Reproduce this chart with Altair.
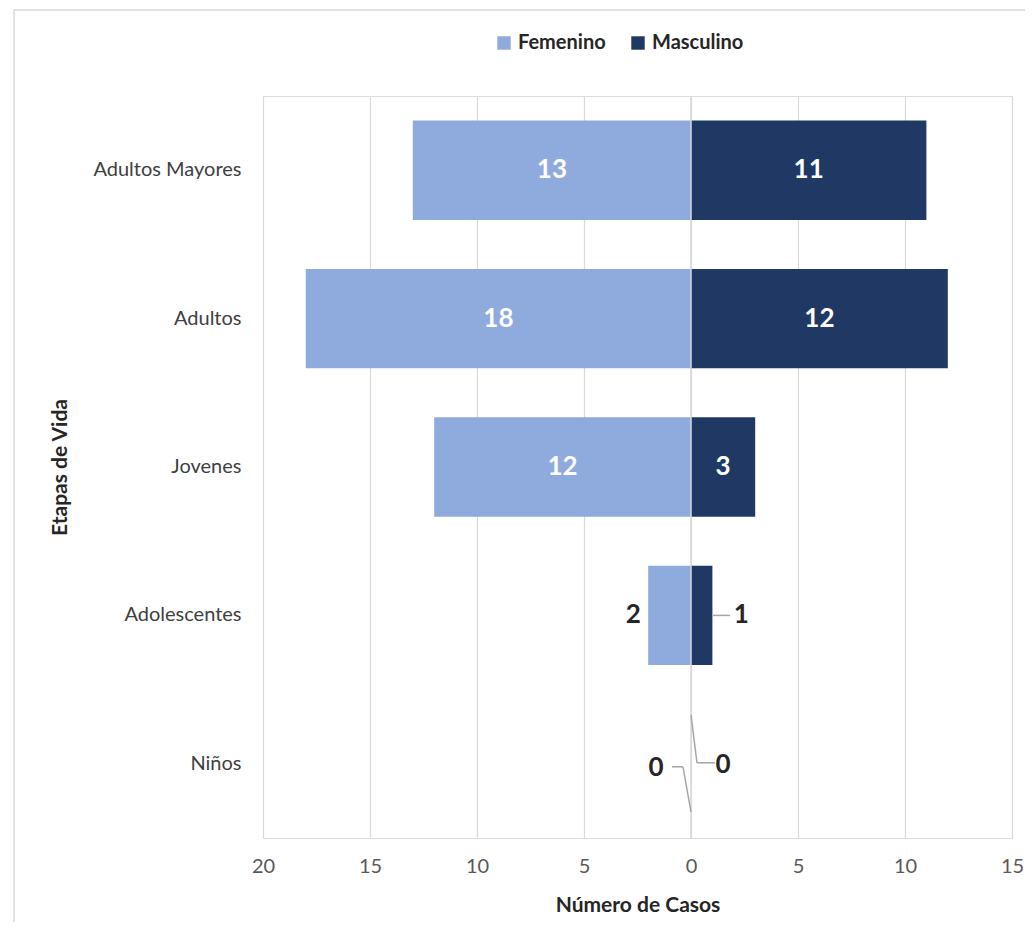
import altair as alt
import pandas as pd

etapas = ["Adultos Mayores", "Adultos", "Jovenes", "Adolescentes", "Niños"]
femenino = [13, 18, 12, 2, 0]
masculino = [11, 12, 3, 1, 0]
x_ticks = [-20, -15, -10, -5, 0, 5, 10, 15]

rows = []
for e, f, m in zip(etapas, femenino, masculino):
    rows.append({"etapa": e, "sexo": "Femenino", "valor": f, "signed": -f})
    rows.append({"etapa": e, "sexo": "Masculino", "valor": m, "signed": m})
df = pd.DataFrame(rows)
df["mid"] = df["signed"] / 2

FONT = "Lato"
W, H = 749, 742

xscale = alt.Scale(domain=[-20, 15], nice=False, zero=False)
yscale = alt.Scale(domain=etapas, paddingInner=0.33, paddingOuter=0.165)

base = alt.Chart(df)

frame = alt.Chart(alt.Data(values=[{}])).mark_rect(
    fillOpacity=0, stroke="#d9d9d9", strokeWidth=1.5
).encode(x=alt.value(-249), y=alt.value(-86), x2=alt.value(W + 60), y2=alt.value(H + 150))

bars = base.mark_bar().encode(
    x=alt.X("signed:Q", scale=xscale,
            axis=alt.Axis(values=x_ticks, labelExpr="abs(datum.value)", title="Número de Casos",
                          grid=True, gridColor="#d9d9d9", gridWidth=1.2, ticks=False, domain=False,
                          labelFlush=False,
                          labelColor="#595959", labelFontSize=20, labelFont=FONT, labelPadding=18,
                          titleFont=FONT, titleFontSize=21, titleFontWeight="bold", titleColor="#262626",
                          titlePadding=18)),
    y=alt.Y("etapa:N", scale=yscale, sort=etapas,
            axis=alt.Axis(title="Etapas de Vida", ticks=False, domain=False, labelFont=FONT,
                          labelFontSize=20, labelColor="#404040", labelPadding=22,
                          titleFont=FONT, titleFontSize=21, titleFontWeight="bold",
                          titleColor="#262626", titlePadding=22)),
    color=alt.Color("sexo:N", scale=alt.Scale(domain=["Femenino", "Masculino"], range=["#8faadc", "#203864"]),
                    legend=alt.Legend(title=None, orient="none", legendX=231, legendY=-63,
                                      direction="horizontal", symbolType="square", symbolSize=180,
                                      symbolStrokeWidth=0, labelFont=FONT, labelFontSize=20,
                                      labelFontWeight="bold", labelColor="#262626", columnPadding=22,
                                      labelOffset=4)),
)

zero = alt.Chart(alt.Data(values=[{"v": 0}])).mark_rule(color="#d9d9d9", strokeWidth=1.5).encode(
    x=alt.X("v:Q", scale=xscale)
)

inside = base.transform_filter("datum.valor >= 3").mark_text(
    font=FONT, fontSize=26, fontWeight="bold", color="white", baseline="middle"
).encode(x=alt.X("mid:Q", scale=xscale), y=alt.Y("etapa:N", scale=yscale, sort=etapas), text="valor:Q")


def outside(etapa, sexo, dx, dy):
    return base.transform_filter(
        f"datum.etapa == '{etapa}' && datum.sexo == '{sexo}'"
    ).mark_text(font=FONT, fontSize=26, fontWeight="bold", color="#262626", baseline="middle",
                dx=dx, dy=dy).encode(
        x=alt.X("signed:Q", scale=xscale), y=alt.Y("etapa:N", scale=yscale, sort=etapas), text="valor:Q")


def seg(etapa, dx1, dy1, dx2, dy2):
    return alt.Chart(alt.Data(values=[{}])).mark_rule(
        color="#a6a6a6", strokeWidth=1.5, xOffset=dx1, yOffset=dy1, x2Offset=dx2, y2Offset=dy2
    ).encode(
        x=alt.X(datum=0, scale=xscale), x2=alt.X2(datum=0),
        y=alt.Y(datum=etapa, scale=yscale, bandPosition=0.5),
        y2=alt.Y2(datum=etapa, bandPosition=0.5),
    )


leaders = [
    seg("Adolescentes", 22, 0, 39, 0),
    seg("Niños", 0, -49, 6, -1),
    seg("Niños", 6, -1, 24, -1),
    seg("Niños", -19, 3, -8, 3),
    seg("Niños", -8, 3, 0, 48),
]

labels_out = [
    outside("Adolescentes", "Femenino", -15, 0),
    outside("Adolescentes", "Masculino", 29, 0),
    outside("Niños", "Femenino", -35, 4),
    outside("Niños", "Masculino", 32, 1),
]

chart = alt.layer(frame, bars, zero, inside, *leaders, *labels_out).properties(
    width=W, height=H,
    autosize=alt.AutoSizeParams(type="none"),
    padding={"left": 255, "top": 88, "right": 13, "bottom": 84},
).configure_view(stroke="#bfbfbf", strokeWidth=1.5).configure(background="white")

chart.save("out.html", embed_options={"renderer": "svg", "actions": False})
